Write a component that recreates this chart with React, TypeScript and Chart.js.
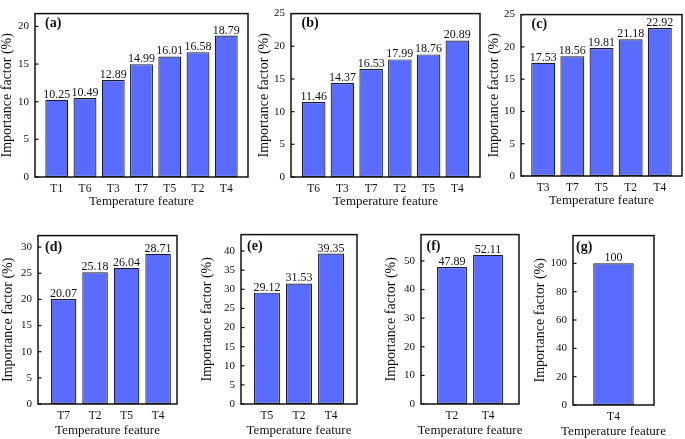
import React, { useEffect, useRef } from 'react';
import { Chart, registerables } from 'chart.js';

Chart.register(...registerables);

// ---------- data ----------
const catsA = ['T1', 'T6', 'T3', 'T7', 'T5', 'T2', 'T4'];
const valsA = [10.25, 10.49, 12.89, 14.99, 16.01, 16.58, 18.79];
const catsB = ['T6', 'T3', 'T7', 'T2', 'T5', 'T4'];
const valsB = [11.46, 14.37, 16.53, 17.99, 18.76, 20.89];
const catsC = ['T3', 'T7', 'T5', 'T2', 'T4'];
const valsC = [17.53, 18.56, 19.81, 21.18, 22.92];
const catsD = ['T7', 'T2', 'T5', 'T4'];
const valsD = [20.07, 25.18, 26.04, 28.71];
const catsE = ['T5', 'T2', 'T4'];
const valsE = [29.12, 31.53, 39.35];
const catsF = ['T2', 'T4'];
const valsF = [47.89, 52.11];
const catsG = ['T4'];
const valsG = [100];

const panelLabels = ['(a)', '(b)', '(c)', '(d)', '(e)', '(f)', '(g)'];
const yMaxes = [21.7, 25, 25, 32.2, 44.3, 59.2, 119.6];
const ySteps = [5, 5, 5, 5, 5, 10, 20];
const xTitle = 'Temperature feature';
const yTitle = 'Importance factor (%)';

const allCats = [catsA, catsB, catsC, catsD, catsE, catsF, catsG];
const allVals = [valsA, valsB, valsC, valsD, valsE, valsF, valsG];

// ---------- layout / style ----------
const SERIF = '"Liberation Serif", "Times New Roman", serif';
const BAR_COLOR = '#5a6cff';
const INK = '#111111';

type Layout = {
  L: number; T: number; R: number; B: number;
  titleDist: number; padL: number; padR: number; barFrac: number;
  ldx: number; ldy: number; hx: number; xtY: number; padRight: number;
};

const layouts: Layout[] = [
  { L: 35, T: 5, R: 248, B: 177, titleDist: 27.5, padL: 0.77, padR: 0.77, barFrac: 0.81, ldx: 10, ldy: 10, hx: 33, xtY: 25, padRight: 3 },
  { L: 291, T: 5, R: 480, B: 177, titleDist: 27, padL: 0.79, padR: 0.79, barFrac: 0.82, ldx: 10.5, ldy: 10, hx: 33, xtY: 25, padRight: 3 },
  { L: 521, T: 6, R: 682, B: 176, titleDist: 27, padL: 0.76, padR: 0.76, barFrac: 0.82, ldx: 10.5, ldy: 10, hx: 33, xtY: 25, padRight: 3 },
  { L: 38, T: 227, R: 177, B: 404, titleDist: 30, padL: 0.81, padR: 0.6, barFrac: 0.81, ldx: 7, ldy: 11.5, hx: 35, xtY: 27, padRight: 3 },
  { L: 241, T: 226, R: 357, B: 404, titleDist: 33.5, padL: 0.81, padR: 0.81, barFrac: 0.81, ldx: 6, ldy: 11.5, hx: 35, xtY: 27, padRight: 3 },
  { L: 421, T: 226, R: 519, B: 404, titleDist: 30, padL: 0.86, padR: 0.86, barFrac: 0.83, ldx: 5.5, ldy: 11.5, hx: 35, xtY: 27, padRight: 3 },
  { L: 573, T: 227, R: 654, B: 405, titleDist: 32.5, padL: 1, padR: 1, barFrac: 0.5, ldx: 3, ldy: 11.5, hx: 34, xtY: 27, padRight: 25 },
];

const PAD_TOP = 4;
const Y_TITLE_FONT = 14;
const X_TITLE_FONT = 13;

const framePlugin = {
  id: 'frame',
  afterDatasetsDraw(chart: any, _args: any, opts: any) {
    const { ctx, chartArea: ca } = chart;
    const ys = chart.scales.y;
    ctx.save();
    // frame
    ctx.strokeStyle = INK;
    ctx.lineWidth = 1.5;
    ctx.strokeRect(ca.left, ca.top, ca.right - ca.left, ca.bottom - ca.top);
    // inward y ticks
    ctx.lineWidth = 1.2;
    ys.ticks.forEach((t: any) => {
      const y = ys.getPixelForValue(t.value);
      ctx.beginPath();
      ctx.moveTo(ca.left, y);
      ctx.lineTo(ca.left + 3.5, y);
      ctx.stroke();
    });
    // value labels
    const meta = chart.getDatasetMeta(0);
    const data = chart.data.datasets[0].data;
    ctx.fillStyle = INK;
    ctx.font = `12px ${SERIF}`;
    ctx.textAlign = 'center';
    ctx.textBaseline = 'alphabetic';
    meta.data.forEach((bar: any, i: number) => {
      ctx.fillText(String(data[i]), bar.x, bar.y - 2);
    });
    // x axis title (drawn here so it is never compressed)
    ctx.font = `${X_TITLE_FONT}px ${SERIF}`;
    ctx.textBaseline = 'middle';
    ctx.fillText(opts.xTitle, (ca.left + ca.right) / 2, ca.bottom + opts.xtY);
    // panel label
    ctx.font = `bold 14px ${SERIF}`;
    ctx.textAlign = 'left';
    ctx.textBaseline = 'middle';
    ctx.fillText(opts.label, ca.left + opts.dx, ca.top + opts.dy);
    ctx.restore();
  },
};

function Panel({ idx }: { idx: number }) {
  const ref = useRef<HTMLCanvasElement | null>(null);
  const lay = layouts[idx];
  const cats = allCats[idx];
  const vals = allVals[idx];
  const wy = Math.round(lay.titleDist + (Y_TITLE_FONT * 1.2) / 2);
  const left = lay.L - wy;
  const top = lay.T - PAD_TOP;
  const width = wy + (lay.R - lay.L) + lay.padRight;
  const height = PAD_TOP + (lay.B - lay.T) + lay.hx;

  useEffect(() => {
    const canvas = ref.current;
    if (!canvas) return;
    const n = cats.length;
    const chart = new Chart(canvas, {
      type: 'bar',
      data: {
        labels: cats,
        datasets: [
          {
            data: vals,
            backgroundColor: BAR_COLOR,
            borderColor: '#1c1c28',
            borderWidth: 1.2,
            borderSkipped: false,
            categoryPercentage: 1,
            barPercentage: lay.barFrac,
          },
        ],
      },
      options: {
        animation: false,
        responsive: false,
        devicePixelRatio: 1,
        events: [],
        layout: { padding: { top: PAD_TOP, right: lay.padRight, left: 0, bottom: 0 } },
        plugins: {
          legend: { display: false },
          tooltip: { enabled: false },
          frame: { label: panelLabels[idx], dx: lay.ldx, dy: lay.ldy, xTitle, xtY: lay.xtY },
        } as any,
        scales: {
          x: {
            type: 'category',
            offset: false,
            grid: { display: false, drawTicks: false },
            border: { display: false },
            ticks: { color: INK, font: { family: SERIF, size: 11.5 }, padding: 5, maxRotation: 0, autoSkip: false },
            title: { display: false },
            afterBuildTicks: (s: any) => {
              s._startValue = -lay.padL;
              s._valueRange = n - 1 + lay.padL + lay.padR;
            },
            afterFit: (s: any) => {
              s.height = lay.hx;
            },
          },
          y: {
            min: 0,
            max: yMaxes[idx],
            grid: { display: false, drawTicks: false },
            border: { display: false },
            ticks: { stepSize: ySteps[idx], includeBounds: false, color: INK, font: { family: SERIF, size: 11 }, padding: 6 },
            title: { display: true, text: yTitle, color: INK, font: { family: SERIF, size: Y_TITLE_FONT }, padding: { top: 0, bottom: 0 } },
            afterFit: (s: any) => {
              s.width = wy;
            },
          },
        },
      } as any,
      plugins: [framePlugin],
    });
    return () => chart.destroy();
  }, []);

  return (
    <canvas
      ref={ref}
      width={width}
      height={height}
      style={{ position: 'absolute', left, top, width, height }}
    />
  );
}

export default function App() {
  return (
    <div style={{ position: 'fixed', left: 0, top: 0, width: 685, height: 439, background: '#ffffff', overflow: 'hidden' }}>
      {layouts.map((_, i) => (
        <Panel key={i} idx={i} />
      ))}
    </div>
  );
}
